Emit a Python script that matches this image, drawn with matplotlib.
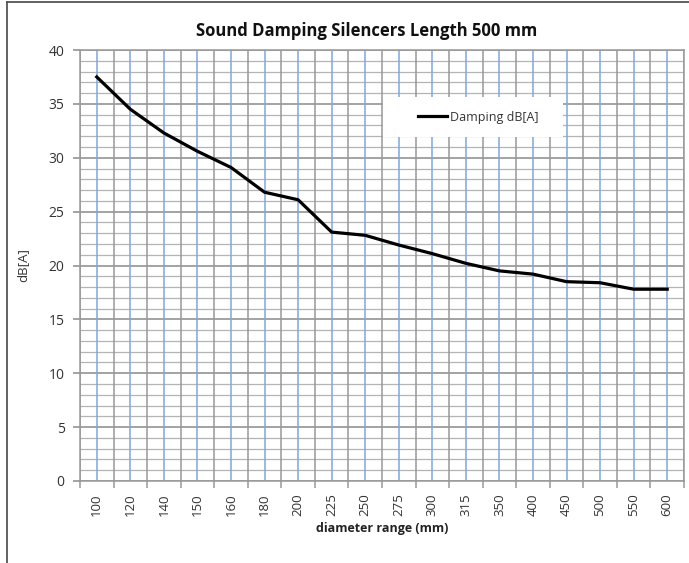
import matplotlib
matplotlib.use("Agg")
import matplotlib.pyplot as plt
from matplotlib.lines import Line2D
from matplotlib.patches import Rectangle
import numpy as np

diameters = ["100", "120", "140", "150", "160", "180", "200", "225", "250",
             "275", "300", "315", "350", "400", "450", "500", "550", "600"]
damping = [37.5, 34.5, 32.3, 30.6, 29.1, 26.8, 26.1, 23.1, 22.8,
           21.9, 21.1, 20.2, 19.5, 19.2, 18.5, 18.4, 17.8, 17.8]

plt.rcParams['font.family'] = ['Open Sans', 'DejaVu Sans']

fig = plt.figure(figsize=(6.89, 5.63), dpi=100)
ax = fig.add_axes([80/689, 1-481/563, (684-80)/689, (481-50)/563])

n = len(diameters)
x = np.arange(n)
ax.set_xlim(-0.5, n-0.5)
ax.set_ylim(0, 40)

# grid: horizontal minor and major
for v in range(0, 41):
    if v % 5 == 0:
        ax.axhline(v, color='#8a8a8a', lw=1.1, zorder=1)
    else:
        ax.axhline(v, color='#b4b4b4', lw=0.9, zorder=1)
# vertical: gray boundaries and blue centers
for b in np.arange(-0.5, n, 1.0):
    ax.axvline(b, color='#989898', lw=1.1, zorder=1)
for c in x:
    ax.axvline(c, color='#7fa8e0', lw=1.1, zorder=1.2)

ln, = ax.plot(x, damping, color='black', lw=2.3, zorder=3, label='Damping dB[A]',
              solid_joinstyle='round')

ax.set_xticks(np.arange(-0.5, n, 1.0))
ax.set_xticklabels([])
ax.set_xticks(x, minor=True)
ax.set_xticklabels(diameters, minor=True, rotation=90, fontsize=9.5, color='#333333')
ax.tick_params(axis='x', which='major', length=5, color='#989898', width=1.1)
ax.tick_params(axis='x', which='minor', length=0, pad=9)

ax.set_yticks(range(0, 41, 5))
ax.tick_params(axis='y', which='major', length=5, color='#8a8a8a', width=1.1,
               labelsize=10, labelcolor='#333333', pad=6)

for s in ['top', 'right', 'left', 'bottom']:
    ax.spines[s].set_color('#989898')
    ax.spines[s].set_linewidth(1.1)

ax.set_xlabel('diameter range (mm)', fontsize=9, fontweight='bold', color='#222222', labelpad=4)
ax.set_ylabel('dB[A]', fontsize=9.5, color='#333333', labelpad=14)
ax.set_title('Sound Damping Silencers Length 500 mm', fontsize=12, fontweight='bold',
             color='#111111', pad=10, x=(367-80)/604)

# white legend area
ax.add_patch(Rectangle(((383-80)/604, 1-(137-50)/431), 180/604, 40/431,
                       transform=ax.transAxes, facecolor='white', edgecolor='none',
                       zorder=4))
leg = ax.legend(handles=[ln], loc='center left',
                bbox_to_anchor=((418-80)/604, 1-(117-50)/431),
                frameon=False, fontsize=9, handlelength=2.3, borderpad=0,
                borderaxespad=0, handletextpad=0.3)
leg.set_zorder(5)
for t in leg.get_texts():
    t.set_color('#333333')

fig.add_artist(Line2D([7/689, 7/689], [0, 1-2/563], color='#555555', lw=1.3))
fig.add_artist(Line2D([7/689, 1], [1-2/563, 1-2/563], color='#555555', lw=1.3))

fig.savefig('out.png', dpi=100)
